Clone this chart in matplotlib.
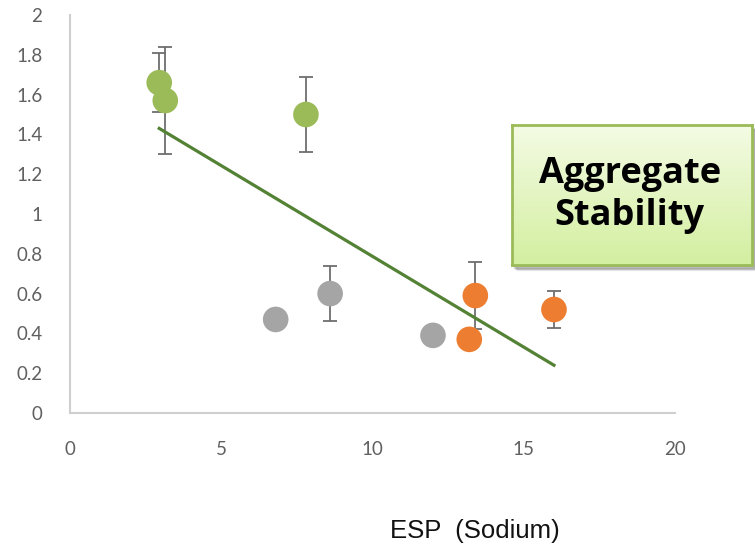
import numpy as np
import matplotlib
matplotlib.use("Agg")
import matplotlib.pyplot as plt
from matplotlib.patches import Rectangle

# values
green_x = [2.95, 3.15, 7.8]
green_y = [1.66, 1.57, 1.50]
green_err = [0.15, 0.27, 0.19]

grey_x = [6.8, 8.6, 12.0]
grey_y = [0.47, 0.60, 0.39]
grey_err = [0.0, 0.14, 0.0]

orange_x = [13.4, 13.2, 16.0]
orange_y = [0.59, 0.37, 0.52]
orange_err = [0.17, 0.0, 0.095]

trend_x = [2.95, 16.0]
trend_y = [1.43, 0.24]

x_ticks = [0, 5, 10, 15, 20]
y_ticks = [0, 0.2, 0.4, 0.6, 0.8, 1, 1.2, 1.4, 1.6, 1.8, 2]
y_labels = ["0", "0.2", "0.4", "0.6", "0.8", "1", "1.2", "1.4", "1.6", "1.8", "2"]

fig = plt.figure(figsize=(7.55, 5.53), dpi=100)
ax = fig.add_axes([0.0927, 0.2532, 0.8013, 0.7197])

series = [(green_x, green_y, green_err, "#9bbb59"),
          (grey_x, grey_y, grey_err, "#a5a5a5"),
          (orange_x, orange_y, orange_err, "#ed7d31")]

for xs, ys, errs, col in series:
    xs = np.array(xs); ys = np.array(ys); errs = np.array(errs)
    m = errs > 0
    ax.errorbar(xs[m], ys[m], yerr=errs[m], fmt="none", ecolor="#6e6e6e",
                elinewidth=1.3, capsize=5, capthick=1.3, zorder=2)
    ax.scatter(xs, ys, s=340, color=col, edgecolors="none", zorder=3)

ax.plot(trend_x, trend_y, color="#548235", linewidth=2.3, zorder=4)

ax.set_xlim(0, 20)
ax.set_ylim(0, 2)
ax.set_xticks(x_ticks)
ax.set_yticks(y_ticks)
ax.set_yticklabels(y_labels)
for s in ["top", "right"]:
    ax.spines[s].set_visible(False)
for s in ["left", "bottom"]:
    ax.spines[s].set_color("#cfcfcf")
    ax.spines[s].set_linewidth(1.5)
ax.tick_params(length=0, colors="#606060", labelsize=13.5)
ax.tick_params(axis="y", pad=20)
ax.tick_params(axis="x", pad=20)
for lab in ax.get_xticklabels() + ax.get_yticklabels():
    lab.set_fontfamily("Lato")

fig.text(0.629, 0.018, "ESP  (Sodium)", ha="center", va="bottom",
         fontsize=18.5, family="Liberation Sans", color="#111111")

# green text box with gradient and soft shadow
bx, by, bw, bh = 512 / 755, 1 - 265 / 553, 240 / 755, 140 / 553
for i, a in enumerate([0.05, 0.06, 0.08, 0.1]):
    off = (6 - i) / 755
    fig.patches.append(Rectangle((bx + off * 0.8, by - off * 1.2), bw, bh,
                                 transform=fig.transFigure, color="black",
                                 alpha=a, zorder=5))
box = fig.add_axes([bx, by, bw, bh], zorder=6)
grad = np.linspace(0, 1, 100).reshape(-1, 1)
box.imshow(grad, aspect="auto", extent=[0, 1, 0, 1],
           cmap=matplotlib.colors.LinearSegmentedColormap.from_list(
               "g", ["#f4fbe4", "#d3efa0"]))
box.set_xticks([]); box.set_yticks([])
for s in box.spines.values():
    s.set_color("#9bbb59")
    s.set_linewidth(2)
box.text(0.49, 0.50, "Aggregate\nStability", ha="center", va="center",
         fontsize=26, fontweight="bold", family="Open Sans",
         linespacing=1.2, transform=box.transAxes, color="black")

fig.savefig("out.png", dpi=100)
